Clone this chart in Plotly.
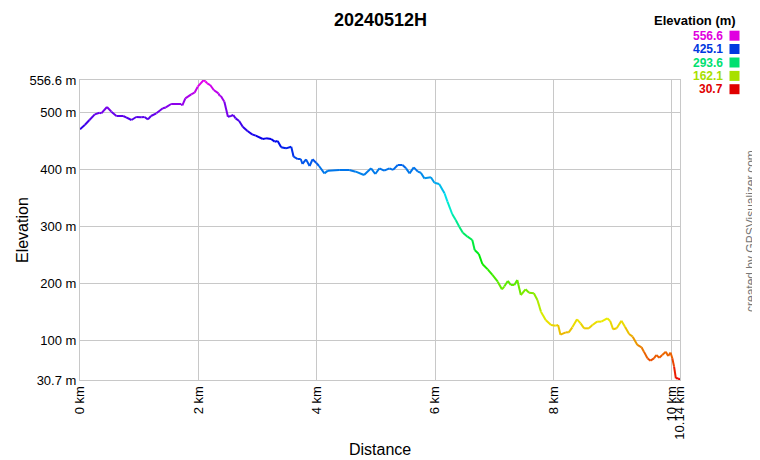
import colorsys
import plotly.graph_objects as go

dist_km = [0.00, 0.08, 0.16, 0.25, 0.33, 0.36, 0.456, 0.53, 0.615, 0.73, 0.78, 0.87, 0.95, 1.035,
           1.09, 1.148, 1.20, 1.29, 1.40, 1.45, 1.54, 1.71, 1.73, 1.78, 1.88, 1.935, 1.99, 2.09,
           2.12, 2.15, 2.20, 2.26, 2.34, 2.36, 2.38, 2.44, 2.50, 2.55, 2.59, 2.63, 2.69, 2.75,
           2.83, 2.91, 2.97, 3.09, 3.145, 3.23, 3.29, 3.34, 3.40, 3.48, 3.57, 3.61, 3.68, 3.73,
           3.76, 3.82, 3.88, 3.93, 3.99, 4.04, 4.13, 4.19, 4.38, 4.55, 4.66, 4.80, 4.92, 4.99,
           5.06, 5.14, 5.23, 5.29, 5.37, 5.45, 5.51, 5.57, 5.64, 5.71, 5.76, 5.82, 5.93, 5.99,
           6.07, 6.16, 6.21, 6.29, 6.35, 6.41, 6.47, 6.55, 6.63, 6.67, 6.74, 6.80, 6.89, 6.97,
           7.06, 7.13, 7.17, 7.23, 7.28, 7.34, 7.39, 7.45, 7.53, 7.59, 7.67, 7.73, 7.79, 7.87,
           7.96, 8.04, 8.08, 8.12, 8.21, 8.26, 8.32, 8.40, 8.46, 8.52, 8.60, 8.66, 8.74, 8.81,
           8.91, 8.96, 9.01, 9.07, 9.15, 9.21, 9.28, 9.34, 9.42, 9.49, 9.53, 9.59, 9.64, 9.70,
           9.74, 9.79, 9.84, 9.90, 9.94, 9.98, 10.01, 10.04, 10.07, 10.11, 10.14]
elev_m = [470.1, 477.7, 486.5, 496.4, 499.3, 498.0, 509.3, 501.1, 493.5, 493.5, 491.2, 486.5,
          491.8, 491.2, 491.8, 487.6, 493.5, 498.2, 507.0, 508.5, 514.5, 514.5, 512.0, 524.5,
          531.5, 534.4, 544.9, 556.6, 554.0, 550.8, 547.8, 539.1, 533.2, 529.0, 528.5, 518.6,
          492.3, 493.5, 495.2, 489.4, 484.7, 474.8, 467.2, 461.4, 459.0, 453.2, 454.3, 453.2,
          448.5, 449.7, 438.6, 436.8, 439.7, 422.2, 418.1, 418.1, 409.4, 417.5, 405.8, 417.5,
          411.7, 405.8, 393.0, 397.7, 398.8, 398.8, 395.9, 390.0, 401.8, 391.8, 401.8, 397.7,
          401.8, 399.0, 407.6, 407.6, 401.8, 393.0, 403.5, 395.9, 394.0, 384.2, 386.0, 376.6,
          374.3, 358.0, 343.3, 321.7, 311.2, 299.5, 289.0, 282.0, 276.1, 258.6, 251.6, 234.1,
          224.7, 214.8, 203.1, 189.7, 194.5, 204.3, 197.3, 197.3, 206.1, 179.7, 189.7, 183.8,
          182.7, 171.0, 150.5, 135.9, 127.1, 126.0, 127.1, 110.2, 114.3, 114.3, 123.0, 137.0,
          130.0, 121.3, 121.3, 127.1, 133.0, 133.0, 138.8, 134.1, 119.6, 121.3, 134.7, 124.2,
          111.4, 106.7, 92.1, 88.0, 80.4, 68.7, 64.6, 68.7, 74.6, 69.9, 74.6, 80.4, 72.8, 78.7,
          68.7, 54.1, 33.7, 33.7, 30.7]

y_tick_vals = [30.7, 100, 200, 300, 400, 500, 556.6]
y_tick_text = ["30.7 m", "100 m", "200 m", "300 m", "400 m", "500 m", "556.6 m"]
x_tick_vals = [0, 2, 4, 6, 8, 10, 10.14]
x_tick_text = ["0 km", "2 km", "4 km", "6 km", "8 km", "10 km", "10.14 km"]
legend_levels = [556.6, 425.1, 293.6, 162.1, 30.7]

E_MIN, E_MAX = min(elev_m), max(elev_m)


def elev_color(e, v=0.9):
    f = (e - E_MIN) / (E_MAX - E_MIN)
    r, g, b = colorsys.hsv_to_rgb(f * 300 / 360, 1.0, v)
    return "rgb(%d,%d,%d)" % (round(r * 255), round(g * 255), round(b * 255))


fig = go.Figure()
for i in range(len(dist_km) - 1):
    e_mid = (elev_m[i] + elev_m[i + 1]) / 2
    fig.add_trace(go.Scatter(
        x=[dist_km[i], dist_km[i + 1]], y=[elev_m[i], elev_m[i + 1]],
        mode="lines", line=dict(color=elev_color(e_mid, 0.92), width=2),
        showlegend=False, hoverinfo="skip"))

# page has an 8px body margin: figure coords = screen coords - 8
OFF = 8
W, H = 752, 452
ML, MT = 80 - OFF, 80 - OFF
MR, MB = W - (680 - OFF), H - (380 - OFF)
font = "Arial, Liberation Sans, sans-serif"
pw, ph = W - ML - MR, H - MT - MB


def px_x(sx):
    return (sx - OFF - ML) / pw


def px_y(sy):
    return (H - MB - (sy - OFF)) / ph


fig.update_layout(
    width=W, height=H,
    margin=dict(l=ML, r=MR, t=MT, b=MB, autoexpand=False),
    paper_bgcolor="white", plot_bgcolor="white",
    font=dict(family=font, size=12, color="#000"),
    showlegend=False,
)
fig.update_xaxes(
    range=[0, 10.14], tickvals=x_tick_vals, ticktext=x_tick_text, tickangle=-90,
    showgrid=True, gridcolor="#c8c8c8", gridwidth=1, zeroline=False,
    showline=True, linecolor="#c8c8c8", mirror=True, ticks="", automargin=False,
    tickfont=dict(size=13),
)
fig.update_yaxes(
    range=[30.7, 556.6], tickvals=y_tick_vals, ticktext=y_tick_text,
    showgrid=True, gridcolor="#c8c8c8", gridwidth=1, zeroline=False,
    showline=True, linecolor="#c8c8c8", mirror=True, ticks="", automargin=False,
    tickfont=dict(size=13),
)

fig.add_annotation(text="<b>20240512H</b>", xref="paper", yref="paper",
                   x=px_x(380), y=px_y(9), xanchor="center", yanchor="top",
                   showarrow=False, font=dict(size=18, color="#000"), borderpad=0)
fig.add_annotation(text="Distance", xref="paper", yref="paper",
                   x=px_x(380), y=px_y(449), xanchor="center", yanchor="middle",
                   showarrow=False, font=dict(size=16, color="#000"), borderpad=0)
fig.add_annotation(text="Elevation", xref="paper", yref="paper",
                   x=px_x(22), y=px_y(230), xanchor="center", yanchor="middle",
                   textangle=-90, showarrow=False, font=dict(size=16, color="#000"),
                   borderpad=0)

fig.add_annotation(text="<b>Elevation (m)</b>", xref="paper", yref="paper",
                   x=px_x(737), y=px_y(20), xanchor="right", yanchor="middle",
                   showarrow=False, font=dict(size=13, color="#000"), borderpad=0)
row_y = [35.7, 49.0, 62.5, 75.9, 89.2]
for lev, ry in zip(legend_levels, row_y):
    c = elev_color(lev, 0.88)
    fig.add_annotation(text="<b>%.1f</b>" % lev, xref="paper", yref="paper",
                       x=px_x(724), y=px_y(ry), xanchor="right", yanchor="middle",
                       showarrow=False, font=dict(size=12, color=c),
                       borderpad=0)
    fig.add_shape(type="rect", xref="paper", yref="paper",
                  x0=px_x(729.5), x1=px_x(739.5), y0=px_y(ry - 5), y1=px_y(ry + 5),
                  fillcolor=c, line=dict(width=0))

fig.add_annotation(text="created by GPSVisualizer.com", xref="paper", yref="paper",
                   x=px_x(751), y=px_y(231), xanchor="center", yanchor="middle",
                   textangle=-90, showarrow=False, font=dict(size=12, color="#777"),
                   borderpad=0)

fig.write_html("out.html")
